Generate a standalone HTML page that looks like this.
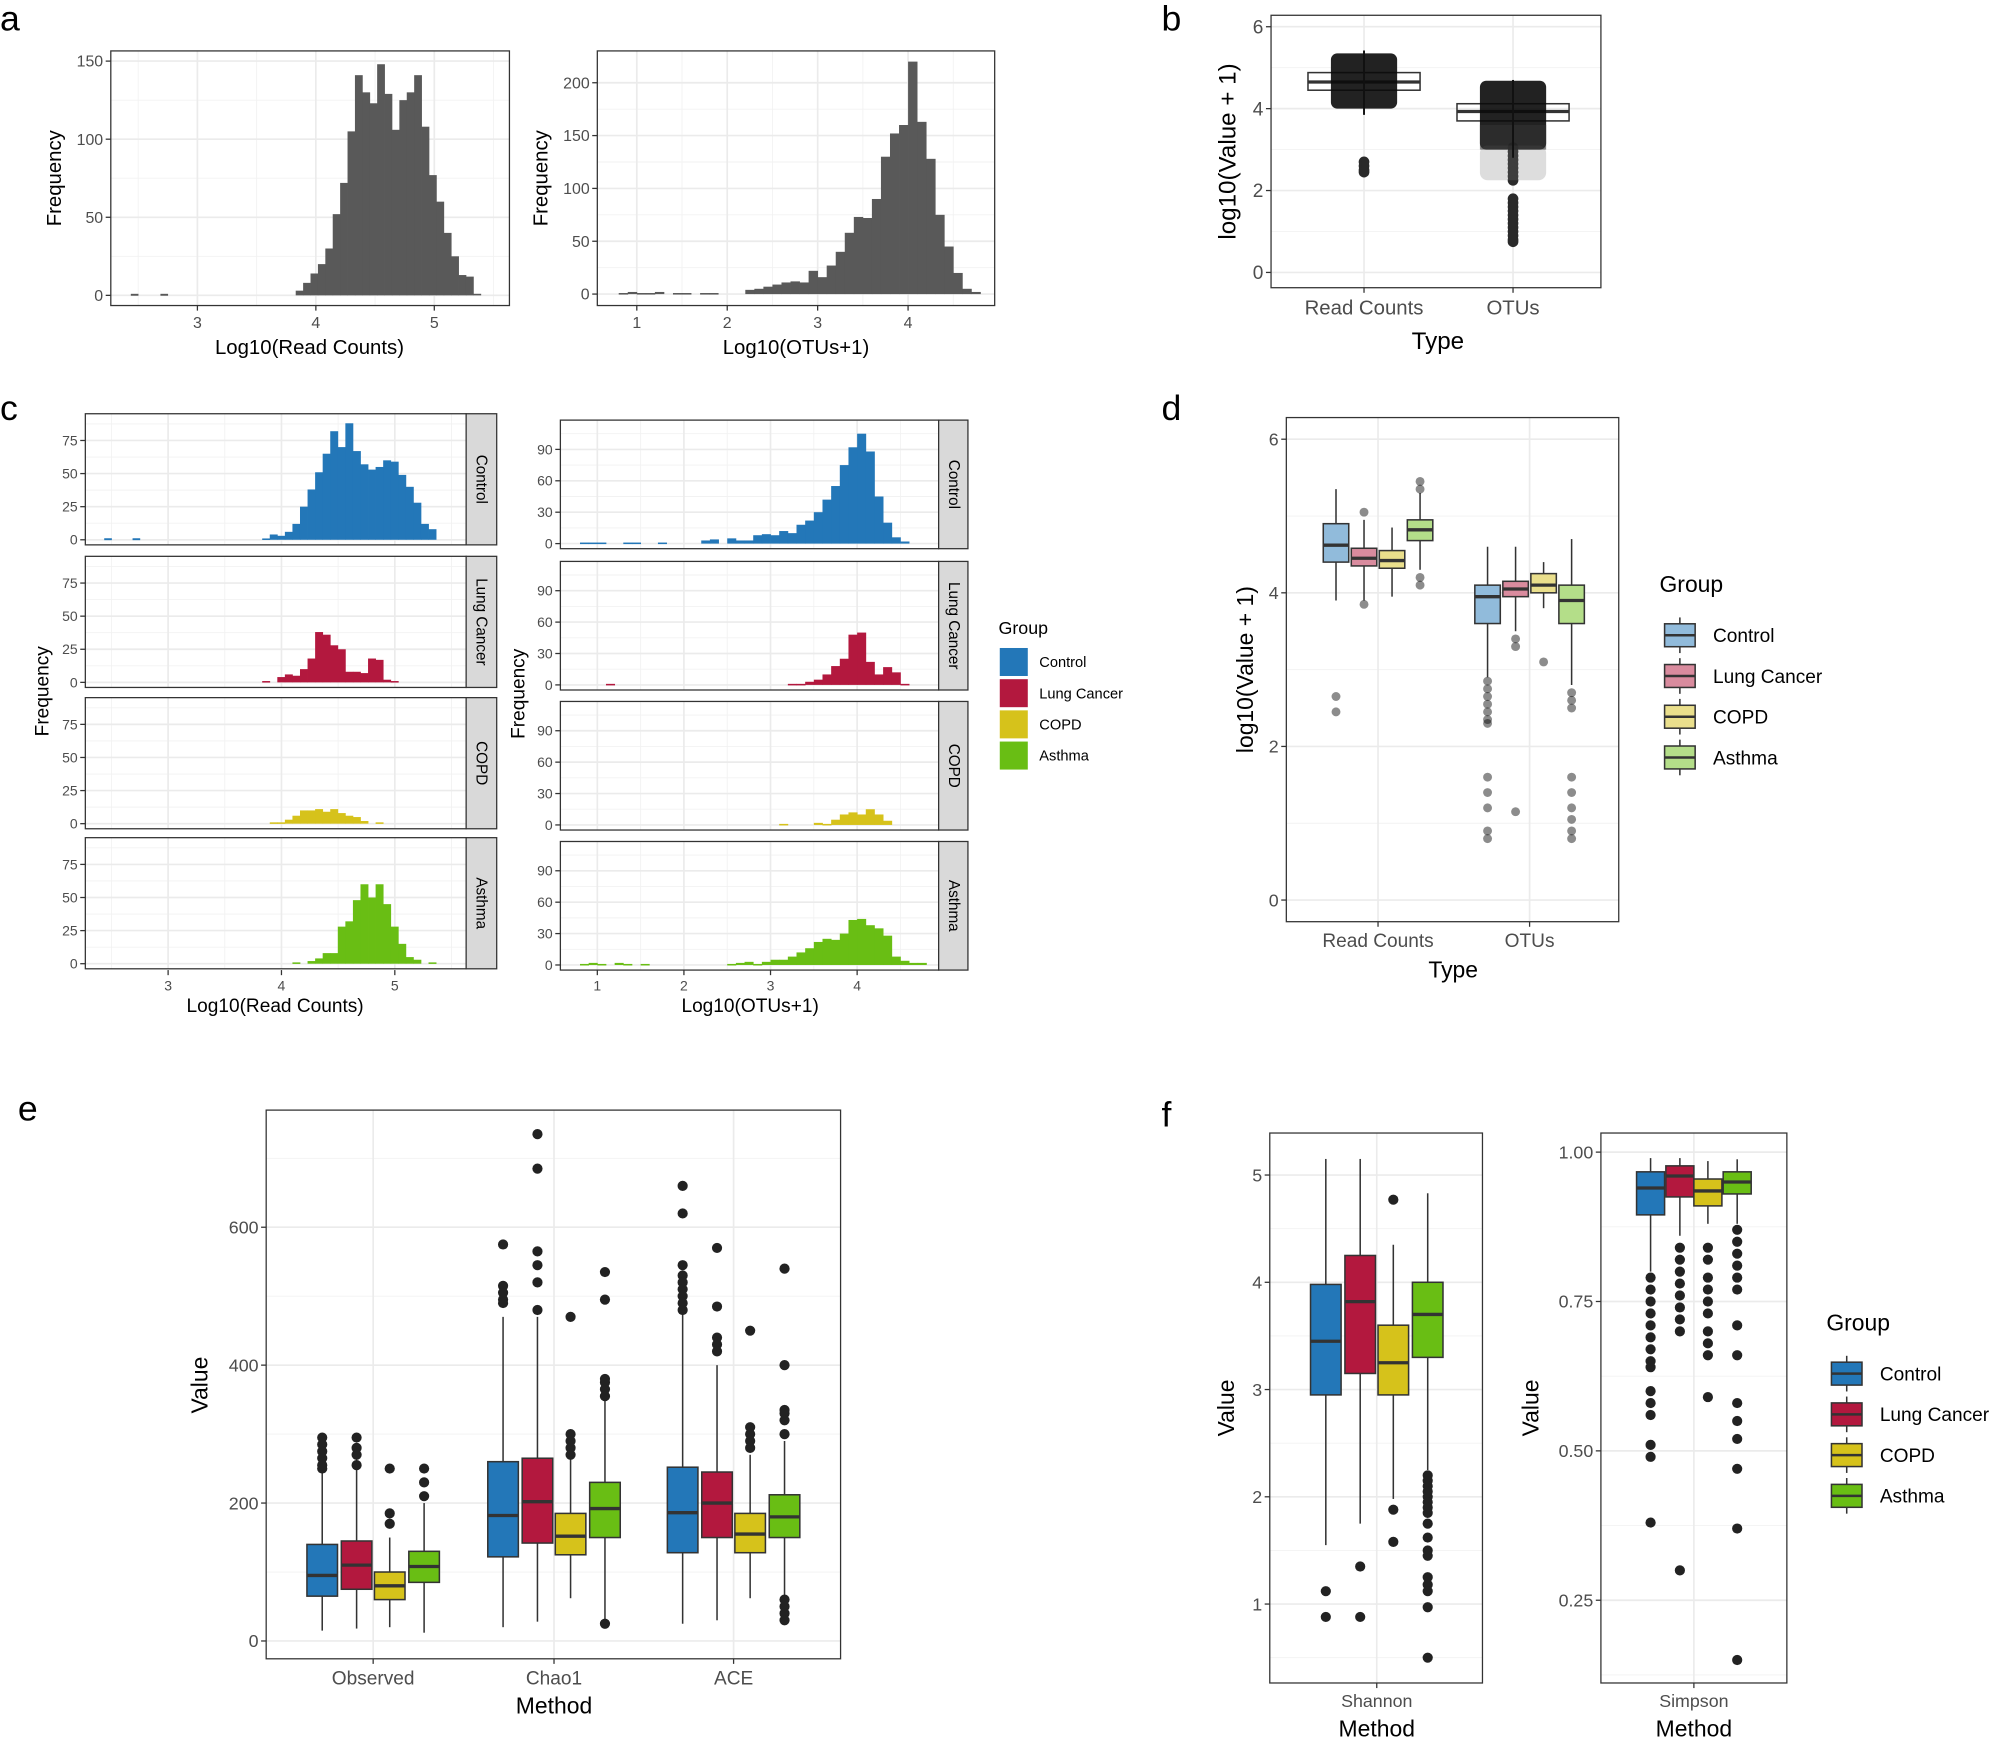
<!DOCTYPE html>
<html><head><meta charset="utf-8"><style>
html,body{margin:0;padding:0;background:#fff;}
svg{display:block;font-family:"Liberation Sans",sans-serif;}
</style></head><body>
<svg id="fig" xmlns="http://www.w3.org/2000/svg" width="1997" height="1739" viewBox="0 0 1568 1366" preserveAspectRatio="none"></svg>
<script>
// ---------- DATA ----------
const groups = ["Control","Lung Cancer","COPD","Asthma"];
const groupColors = ["#2377b8","#b3183e","#d6c21b","#69be14"];
const groupLight = ["#91bbdb","#d98b9e","#eadf8c","#b4de89"];

const a1Start = 3.83, a1Width = 0.0625;
const a1Counts = [3,8,14,20,30,52,72,105,141,130,123,148,129,106,125,130,141,108,77,60,40,25,13,12,1];
const a1Lone = [2.47,2.72];
const a2Start = 0.8, a2Width = 0.1;
const a2Counts = [1,2,1,1,2,0,1,1,0,1,1,0,0,0,4,5,7,9,11,12,11,22,16,27,40,58,73,72,90,130,152,160,220,163,128,75,45,20,5,2];

const cLStart = 3.83, cLWidth = 0.0667;
const cLCounts = [
 [1,4,3,6,12,25,38,51,65,82,70,88,67,57,53,55,60,59,49,40,28,12,8,0],
 [1,0,4,6,5,10,18,38,36,28,25,8,8,7,18,17,2,1,0,0,0,0,0,0],
 [0,1,1,3,6,10,10,11,9,11,8,6,5,2,0,1,0,0,0,0,0,0,0,0],
 [0,0,0,0,1,0,2,4,8,8,28,32,48,60,50,60,45,28,15,5,3,0,1,0]];
const cLLone = [2.47,2.72];
const cRStart = 0.8, cRWidth = 0.1;
const cRCounts = [
 [1,1,1,0,0,1,1,0,0,1,0,0,0,0,3,4,0,5,3,3,8,9,8,12,10,18,22,30,42,55,75,92,105,88,45,20,6,2,0,0],
 [0,0,0,1,0,0,0,0,0,0,0,0,0,0,0,0,0,0,0,0,0,0,0,0,1,1,3,5,10,18,25,48,50,22,10,17,12,1,0,0],
 [0,0,0,0,0,0,0,0,0,0,0,0,0,0,0,0,0,0,0,0,0,0,0,1,0,0,0,2,1,5,10,12,10,15,10,4,0,0,0,0],
 [1,2,1,0,2,1,0,1,0,0,0,0,0,0,0,0,0,1,2,3,1,3,5,5,8,12,16,22,25,24,30,43,44,38,35,28,8,4,2,2]];

const bCats = ["Read Counts","OTUs"];
const bStats = [[3.85,4.45,4.65,4.88,5.42],[2.8,3.7,3.93,4.12,4.7]];
const bOut = [[2.7,2.6,2.5,2.45],[3.05,2.95,2.85,2.75,2.65,2.55,2.45,2.35,2.25,1.8,1.7,1.6,1.5,1.4,1.3,1.2,1.1,1.0,0.9,0.8,0.75]];
const bCloud = [[4.0,5.35],[3.0,4.68]];

const dCats = ["Read Counts","OTUs"];
const dStats = [
 [[3.9,4.4,4.62,4.9,5.35],[3.9,4.35,4.45,4.58,4.95],[3.95,4.32,4.42,4.55,4.85],[4.3,4.68,4.82,4.95,5.3]],
 [[2.9,3.6,3.95,4.1,4.6],[3.5,3.95,4.05,4.15,4.6],[3.8,4.0,4.1,4.25,4.4],[2.8,3.6,3.9,4.1,4.7]]];
const dOut = [
 [[2.65,2.45],[3.85,5.05],[],[5.45,5.35,4.2,4.1]],
 [[2.85,2.75,2.65,2.55,2.45,2.35,2.3,1.6,1.4,1.2,0.9,0.8],[3.4,3.3,1.15],[3.1],[2.7,2.6,2.5,1.6,1.4,1.2,1.05,0.9,0.8]]];

const eCats = ["Observed","Chao1","ACE"];
const eStats = [
 [[15,65,95,140,285],[18,75,110,145,280],[20,60,80,100,150],[12,85,108,130,200]],
 [[20,122,182,260,470],[28,142,202,265,470],[62,125,152,185,270],[25,150,192,230,360]],
 [[25,128,186,252,475],[30,150,200,245,400],[62,128,155,185,270],[40,150,180,212,290]]];
const eOut = [
 [[295,285,275,265,255,250],[295,280,270,255],[250,185,170],[250,230,210]],
 [[575,515,505,495,490],[735,685,565,545,520,480],[470,300,290,280,270],[535,495,380,375,365,355,25]],
 [[660,620,545,530,520,510,500,490,480],[570,485,440,430,420],[450,310,300,290,280],[540,400,335,330,320,300,60,50,40,30]]];

const fShStats = [[1.55,2.95,3.45,3.98,5.15],[1.75,3.15,3.82,4.25,5.15],[1.98,2.95,3.25,3.6,4.35],[2.25,3.3,3.7,4.0,4.83]];
const fShOut = [[1.12,0.88],[1.35,0.88],[4.77,1.88,1.58],[2.2,2.15,2.1,2.05,2.0,1.95,1.9,1.85,1.75,1.62,1.5,1.45,1.25,1.18,1.12,0.97,0.5]];
const fSiStats = [[0.80,0.895,0.94,0.967,0.99],[0.86,0.925,0.96,0.977,0.99],[0.88,0.91,0.935,0.955,0.985],[0.88,0.93,0.95,0.967,0.988]];
const fSiOut = [[0.79,0.77,0.75,0.73,0.71,0.69,0.67,0.65,0.64,0.60,0.58,0.56,0.51,0.49,0.38],[0.84,0.82,0.80,0.78,0.76,0.74,0.72,0.70,0.30],[0.84,0.82,0.79,0.77,0.75,0.73,0.70,0.68,0.66,0.59],[0.87,0.85,0.83,0.81,0.79,0.77,0.71,0.66,0.58,0.55,0.52,0.47,0.37,0.15]];

// ---------- HELPERS ----------
const NS="http://www.w3.org/2000/svg";
const svg=document.getElementById('fig');
function mk(tag,attrs,parent){const e=document.createElementNS(NS,tag);for(const k in attrs)e.setAttribute(k,attrs[k]);(parent||svg).appendChild(e);return e;}
function lin(d0,d1,r0,r1){return v=>r0+(v-d0)*(r1-r0)/(d1-d0);}
function txt(x,y,s,size,opts,parent){opts=opts||{};const t=mk('text',Object.assign({x:x,y:y,'font-size':size,fill:opts.fill||'#000','text-anchor':opts.anchor||'middle'},opts.extra||{}),parent);t.textContent=s;return t;}
function grp(name){const g=mk('g',{});return g;}

function frame(g,x0,y0,x1,y1,sx,sy,xMaj,xMin,yMaj,yMin){
  mk('rect',{x:x0,y:y0,width:x1-x0,height:y1-y0,fill:'#fff'},g);
  (xMin||[]).forEach(v=>mk('line',{x1:sx(v),x2:sx(v),y1:y0,y2:y1,stroke:'#f2f2f2','stroke-width':0.7},g));
  (yMin||[]).forEach(v=>mk('line',{x1:x0,x2:x1,y1:sy(v),y2:sy(v),stroke:'#f2f2f2','stroke-width':0.7},g));
  (xMaj||[]).forEach(v=>mk('line',{x1:sx(v),x2:sx(v),y1:y0,y2:y1,stroke:'#ebebeb','stroke-width':1.3},g));
  (yMaj||[]).forEach(v=>mk('line',{x1:x0,x2:x1,y1:sy(v),y2:sy(v),stroke:'#ebebeb','stroke-width':1.3},g));
}
function border(g,x0,y0,x1,y1){mk('rect',{x:x0,y:y0,width:x1-x0,height:y1-y0,fill:'none',stroke:'#333','stroke-width':1},g);}
function yTicks(g,x0,sy,vals,labels,fs){vals.forEach((v,i)=>{mk('line',{x1:x0-4,x2:x0,y1:sy(v),y2:sy(v),stroke:'#333'},g);const t=txt(x0-6,sy(v)+fs*0.35,labels[i],fs,{anchor:'end',fill:'#4d4d4d'},g);});}
function xTicks(g,y1,pos,labels,fs){pos.forEach((p,i)=>{mk('line',{x1:p,x2:p,y1:y1,y2:y1+4,stroke:'#333'},g);const t=txt(p,y1+5+fs,labels[i],fs,{fill:'#4d4d4d'},g);});}
function hist(g,start,w,counts,sx,sy,color){counts.forEach((c,i)=>{if(c<=0)return;const xa=sx(start+i*w),xb=sx(start+(i+1)*w);const r=mk('rect',{x:xa,y:sy(c),width:xb-xa+0.3,height:Math.max(sy(0)-sy(c),1.2),fill:color},g);});}
function box(g,cx,w,st,outs,sy,fill,ptFill,pr){
  const o=mk('g',{},g);
  
  
  mk('line',{x1:cx,x2:cx,y1:sy(st[0]),y2:sy(st[1]),stroke:'#333','stroke-width':1.2},o);
  mk('line',{x1:cx,x2:cx,y1:sy(st[3]),y2:sy(st[4]),stroke:'#333','stroke-width':1.2},o);
  mk('rect',{x:cx-w/2,y:sy(st[3]),width:w,height:sy(st[1])-sy(st[3]),fill:fill,stroke:'#333','stroke-width':1.2},o);
  mk('line',{x1:cx-w/2,x2:cx+w/2,y1:sy(st[2]),y2:sy(st[2]),stroke:'#333','stroke-width':2.6},o);
  outs.forEach(v=>{const c=mk('circle',{cx:cx,cy:sy(v),r:pr||3.6,fill:ptFill},o);});
}
function legend(g,x,y,title,fills,dy,fs,tfs){
  txt(x,y,title,tfs,{anchor:'start'},g);
  groups.forEach((n,i)=>{const yy=y+34+i*dy;const k=mk('g',{},g);
    
    
    mk('line',{x1:x+16,x2:x+16,y1:yy-14,y2:yy+14,stroke:'#333','stroke-width':1.2},k);
    mk('rect',{x:x+4,y:yy-9,width:24,height:18,fill:fills[i],stroke:'#333','stroke-width':1.2},k);
    mk('line',{x1:x+4,x2:x+28,y1:yy,y2:yy,stroke:'#333','stroke-width':2},k);
    txt(x+42,yy+fs*0.36,n,fs,{anchor:'start'},k);});
}
function label(x,y,s){const t=txt(x,y,s,28,{anchor:'start'});}
function rotText(g,x,y,s,fs,deg){const t=txt(0,0,s,fs,{extra:{transform:`translate(${x},${y}) rotate(${deg})`}},g);return t;}

// ---------- PANEL A ----------
label(0,24,'a');
(function(){
 const g=grp('histogram-read-counts');
 const x0=87,y0=40,x1=400,y1=240;
 const sx=lin(3,4,155,248), sy=lin(0,150,232,48);
 frame(g,x0,y0,x1,y1,sx,sy,[3,4,5],[2.5,3.5,4.5,5.5].filter(v=>sx(v)>x0&&sx(v)<x1),[0,50,100,150],[25,75,125]);
 hist(g,a1Start,a1Width,a1Counts,sx,sy,'#595959');
 a1Lone.forEach(v=>mk('rect',{x:sx(v)-3,y:sy(0)-1.2,width:6,height:1.5,fill:'#595959'},g));
 border(g,x0,y0,x1,y1);
 yTicks(g,x0,sy,[0,50,100,150],['0','50','100','150'],12.5);
 xTicks(g,y1,[3,4,5].map(sx),['3','4','5'],12.5);
 txt(243,278,'Log10(Read Counts)',16,{},g);
 rotText(g,48,140,'Frequency',16,-90);
})();
(function(){
 const g=grp('histogram-otus');
 const x0=469,y0=40,x1=781,y1=240;
 const sx=lin(1,2,500,571), sy=lin(0,200,231,65);
 frame(g,x0,y0,x1,y1,sx,sy,[1,2,3,4],[1.5,2.5,3.5,4.5],[0,50,100,150,200],[25,75,125,175]);
 hist(g,a2Start,a2Width,a2Counts,sx,sy,'#595959');
 border(g,x0,y0,x1,y1);
 yTicks(g,x0,sy,[0,50,100,150,200],['0','50','100','150','200'],12.5);
 xTicks(g,y1,[1,2,3,4].map(sx),['1','2','3','4'],12.5);
 txt(625,278,'Log10(OTUs+1)',16,{},g);
 rotText(g,430,140,'Frequency',16,-90);
})();

// ---------- PANEL B ----------
label(912,24,'b');
(function(){
 const g=grp('boxplot-b');
 const x0=998,y0=12,x1=1257,y1=226;
 const sy=lin(0,6,214,21); const cx=[1071,1188];
 frame(g,x0,y0,x1,y1,null,sy,[],[],[0,2,4,6],[1,3,5]);
 cx.forEach(c=>mk('line',{x1:c,x2:c,y1:y0,y2:y1,stroke:'#ebebeb','stroke-width':1.3},g));
 bStats.forEach((st,i)=>box(g,cx[i],88,st,bOut[i],sy,'none','#2a2a2a',4.2));
 // jitter clouds (drawn over boxes)
 bCloud.forEach((cl,i)=>{
   const r=mk('rect',{x:cx[i]-26,y:sy(cl[1]),width:52,height:sy(cl[0])-sy(cl[1]),rx:5,fill:'#0a0a0a','fill-opacity':0.9},g);
   
   
 });
 mk('rect',{x:cx[1]-26,y:sy(3.1),width:52,height:sy(2.25)-sy(3.1),rx:6,fill:'#777','fill-opacity':0.25},g);
 mk('rect',{x:cx[1]-26,y:sy(3.6),width:52,height:sy(3.0)-sy(3.6),fill:'#333','fill-opacity':0.6},g);
 cx.forEach((c,i)=>mk('line',{x1:c,x2:c,y1:sy(bStats[i][0]),y2:sy(bStats[i][4]),stroke:'#111','stroke-width':1.5},g));
 border(g,x0,y0,x1,y1);
 yTicks(g,x0,sy,[0,2,4,6],['0','2','4','6'],15);
 xTicks(g,y1,cx,bCats,16);
 txt(1129,274,'Type',19,{},g);
 rotText(g,970,119,'log10(Value + 1)',19,-90);
})();

// ---------- PANEL C ----------
label(0,330,'c');
(function(){
 const g=grp('faceted-histogram-read-counts');
 const tops=[325,437,548,658], h=103, x0=67,x1=366;
 const sx=lin(3,4,132,221);
 tops.forEach((t,k)=>{
  const sy=lin(0,75,t+99,t+21);
  const fg=grp('facet-'+groups[k].toLowerCase().replace(' ','-')); g.appendChild(fg);
  frame(fg,x0,t,x1,t+h,sx,sy,[3,4,5],[2.5,3.5,4.5,5.5].filter(v=>sx(v)>x0&&sx(v)<x1),[0,25,50,75],[12.5,37.5,62.5,87.5].filter(v=>sy(v)>t));
  hist(fg,cLStart,cLWidth,cLCounts[k],sx,sy,groupColors[k]);
  if(k===0)cLLone.forEach(v=>mk('rect',{x:sx(v)-3,y:sy(0)-1.2,width:6,height:1.5,fill:groupColors[0]},fg));
  border(fg,x0,t,x1,t+h);
  mk('rect',{x:x1,y:t,width:24,height:h,fill:'#d9d9d9',stroke:'#333','stroke-width':1},fg);
  rotText(fg,x1+8,t+h/2,groups[k],12,90);
  yTicks(fg,x0,sy,[0,25,50,75],['0','25','50','75'],11);
 });
 xTicks(g,762,[3,4,5].map(sx),['3','4','5'],11);
 txt(216,795,'Log10(Read Counts)',15,{},g);
 rotText(g,38,543,'Frequency',15,-90);
})();
(function(){
 const g=grp('faceted-histogram-otus');
 const tops=[330,441,551,661], h=101, x0=440,x1=737;
 const sx=lin(1,2,469,537);
 tops.forEach((t,k)=>{
  const sy=lin(0,90,t+97,t+23);
  const fg=grp('facet-otus-'+groups[k].toLowerCase().replace(' ','-')); g.appendChild(fg);
  frame(fg,x0,t,x1,t+h,sx,sy,[1,2,3,4],[1.5,2.5,3.5,4.5],[0,30,60,90],[15,45,75,105].filter(v=>sy(v)>t));
  hist(fg,cRStart,cRWidth,cRCounts[k],sx,sy,groupColors[k]);
  border(fg,x0,t,x1,t+h);
  mk('rect',{x:x1,y:t,width:23,height:h,fill:'#d9d9d9',stroke:'#333','stroke-width':1},fg);
  rotText(fg,x1+8,t+h/2,groups[k],12,90);
  yTicks(fg,x0,sy,[0,30,60,90],['0','30','60','90'],11);
 });
 xTicks(g,762,[1,2,3,4].map(sx),['1','2','3','4'],11);
 txt(589,795,'Log10(OTUs+1)',15,{},g);
 rotText(g,412,545,'Frequency',15,-90);
 const lg=grp('legend-c');
 txt(784,498,'Group',14,{anchor:'start'},lg);
 groups.forEach((n,i)=>{const yy=520+i*24.5;const k=mk('g',{},lg);
  
  
  mk('rect',{x:785,y:yy-11,width:22,height:22,fill:groupColors[i]},k);
  txt(816,yy+4,n,11.5,{anchor:'start'},k);});
})();

// ---------- PANEL D ----------
label(912,330,'d');
(function(){
 const g=grp('boxplot-d');
 const x0=1010,y0=328,x1=1271,y1=724;
 const sy=lin(0,6,707,345); const cx=[1082,1201]; const off=[-33,-11,11,33];
 frame(g,x0,y0,x1,y1,null,sy,[],[],[0,2,4,6],[1,3,5]);
 cx.forEach(c=>mk('line',{x1:c,x2:c,y1:y0,y2:y1,stroke:'#ebebeb','stroke-width':1.3},g));
 dStats.forEach((arr,i)=>arr.forEach((st,k)=>box(g,cx[i]+off[k],20,st,dOut[i][k],sy,groupLight[k],'rgba(0,0,0,0.45)',3.5)));
 border(g,x0,y0,x1,y1);
 yTicks(g,x0,sy,[0,2,4,6],['0','2','4','6'],14);
 xTicks(g,y1,cx,dCats,15);
 txt(1141,768,'Type',18,{},g);
 rotText(g,984,526,'log10(Value + 1)',18,-90);
 legend(g,1303,465,'Group',groupLight,32,15,18);
})();

// ---------- PANEL E ----------
label(14,880,'e');
(function(){
 const g=grp('boxplot-e');
 const x0=209,y0=872,x1=660,y1=1303;
 const sy=lin(0,600,1289,964); const cx=[293,435,576]; const off=[-40,-13,13,40];
 frame(g,x0,y0,x1,y1,null,sy,[],[],[0,200,400,600],[100,300,500,700]);
 cx.forEach(c=>mk('line',{x1:c,x2:c,y1:y0,y2:y1,stroke:'#ebebeb','stroke-width':1.3},g));
 eStats.forEach((arr,i)=>arr.forEach((st,k)=>box(g,cx[i]+off[k],24,st,eOut[i][k],sy,groupColors[k],'#222',4)));
 border(g,x0,y0,x1,y1);
 yTicks(g,x0,sy,[0,200,400,600],['0','200','400','600'],14);
 xTicks(g,y1,cx,eCats,15);
 txt(435,1346,'Method',18,{},g);
 rotText(g,163,1088,'Value',18,-90);
})();

// ---------- PANEL F ----------
label(912,885,'f');
(function(){
 const g=grp('boxplot-shannon');
 const x0=997,y0=890,x1=1164,y1=1322;
 const sy=lin(1,5,1260,923); const cx=1081; const off=[-40,-13,13,40];
 frame(g,x0,y0,x1,y1,null,sy,[],[],[1,2,3,4,5],[0.5,1.5,2.5,3.5,4.5]);
 mk('line',{x1:cx,x2:cx,y1:y0,y2:y1,stroke:'#ebebeb','stroke-width':1.3},g);
 fShStats.forEach((st,k)=>box(g,cx+off[k],24,st,fShOut[k],sy,groupColors[k],'#222',4));
 border(g,x0,y0,x1,y1);
 yTicks(g,x0,sy,[1,2,3,4,5],['1','2','3','4','5'],14);
 xTicks(g,y1,[cx],['Shannon'],14);
 txt(1081,1364,'Method',18,{},g);
 rotText(g,969,1106,'Value',18,-90);
})();
(function(){
 const g=grp('boxplot-simpson');
 const x0=1257,y0=890,x1=1403,y1=1322;
 const sy=lin(0.25,1.0,1257,905); const cx=1330; const off=[-34,-11,11,34];
 frame(g,x0,y0,x1,y1,null,sy,[],[],[0.25,0.5,0.75,1.0],[0.125,0.375,0.625,0.875]);
 mk('line',{x1:cx,x2:cx,y1:y0,y2:y1,stroke:'#ebebeb','stroke-width':1.3},g);
 fSiStats.forEach((st,k)=>box(g,cx+off[k],22,st,fSiOut[k],sy,groupColors[k],'#222',4));
 border(g,x0,y0,x1,y1);
 yTicks(g,x0,sy,[0.25,0.5,0.75,1.0],['0.25','0.50','0.75','1.00'],14);
 xTicks(g,y1,[cx],['Simpson'],14);
 txt(1330,1364,'Method',18,{},g);
 rotText(g,1208,1106,'Value',18,-90);
 legend(g,1434,1045,'Group',groupColors,32,15,18);
})();
</script>
</body></html>
